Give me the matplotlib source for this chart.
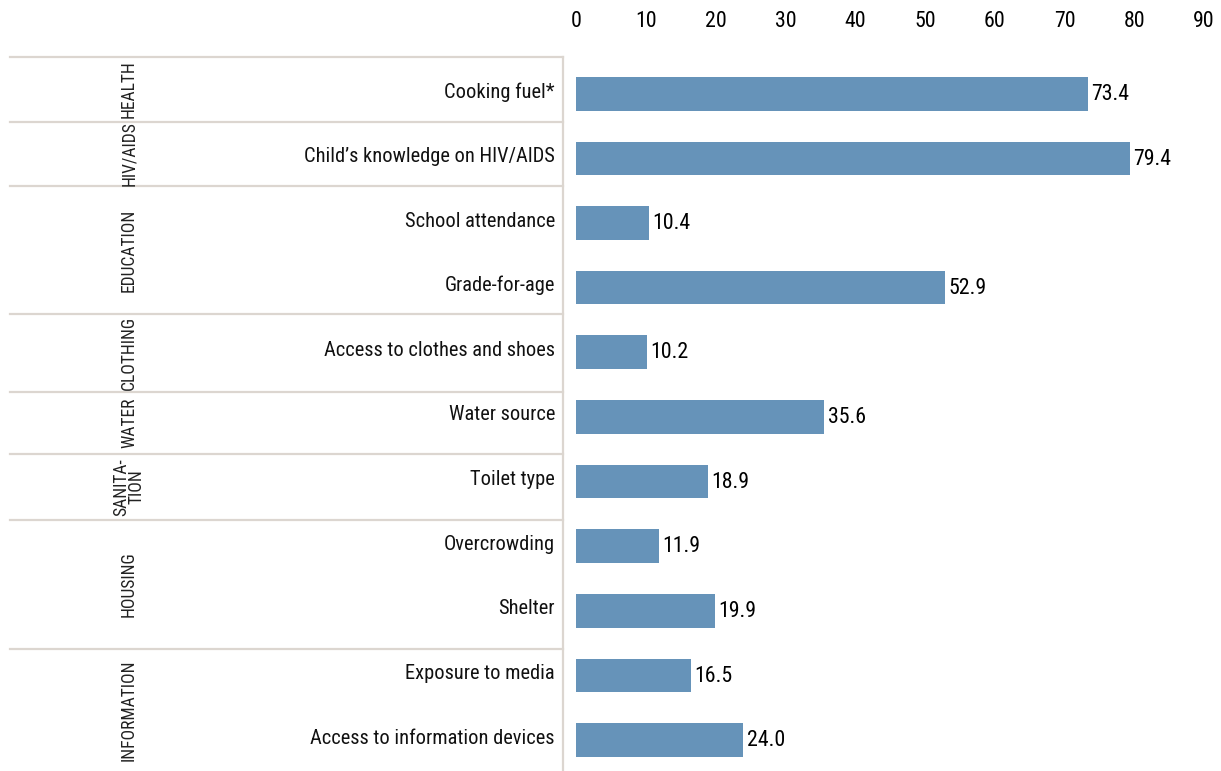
import matplotlib
matplotlib.use("Agg")
import matplotlib.pyplot as plt
import matplotlib.transforms as mtransforms
from matplotlib import font_manager
from matplotlib.font_manager import FontProperties

# ---- data ----
categories = ["Cooking fuel*", "Child\u2019s knowledge on HIV/AIDS", "School attendance",
              "Grade-for-age", "Access to clothes and shoes", "Water source",
              "Toilet type", "Overcrowding", "Shelter", "Exposure to media",
              "Access to information devices"]
values = [73.4, 79.4, 10.4, 52.9, 10.2, 35.6, 18.9, 11.9, 19.9, 16.5, 24.0]
groups = ["HEALTH", "HIV/AIDS", "EDUCATION", "CLOTHING", "WATER", "SANITA-\nTION",
          "HOUSING", "INFORMATION"]
group_sizes = [1, 1, 2, 1, 1, 1, 2, 2]
x_ticks = [0, 10, 20, 30, 40, 50, 60, 70, 80, 90]

# ---- font: look for a condensed / narrow face ----
def pick_condensed():
    prefs = ["Roboto Condensed", "Liberation Sans Narrow", "Noto Sans", "Open Sans",
             "DejaVu Sans", "Roboto", "Inter", "Lato"]
    cands = []
    for f in font_manager.fontManager.ttflist:
        nm = f.name
        st = str(f.stretch).lower()
        low = f.fname.lower()
        cond = ("condensed" in st or "narrow" in st or "Condensed" in nm
                or "Narrow" in nm or "condensed" in low or "narrow" in low)
        if "extra" in st or "ultra" in st or "semi" in st:
            continue
        if "extracondensed" in low or "semicondensed" in low or "ultracondensed" in low:
            continue
        if not cond or f.style != "normal":
            continue
        w = f.weight
        ok = (w in ("normal", "regular", "book")) if isinstance(w, str) else (w == 400)
        if not ok:
            continue
        rank = len(prefs)
        for i, p in enumerate(prefs):
            if nm.startswith(p):
                rank = i
                break
        cands.append((rank, f.fname))
    if cands:
        cands.sort()
        return FontProperties(fname=cands[0][1])
    return FontProperties(family="DejaVu Sans")

FP = pick_condensed()

W, H = 1221, 771
fig = plt.figure(figsize=(W / 100, H / 100), dpi=100)
renderer = fig.canvas.get_renderer()

def fp(size):
    p = FP.copy()
    p.set_size(size)
    return p

def fit_size(text, target_px):
    t = fig.text(0, 0, text, fontproperties=fp(10))
    bb = t.get_window_extent(renderer)
    t.remove()
    return 10 * target_px / bb.width

cat_size = fit_size("Child\u2019s knowledge on HIV/AIDS", 233) * 1.07
val_size = fit_size("79.4", 33) * 1.16
tick_size = val_size
grp_size = fit_size("INFORMATION", 99) * 1.03

x0_px, x90_px = 576, 1204
top_px = 57
ax = fig.add_axes([x0_px / W, 0, (x90_px - x0_px) / W, 1 - top_px / H])

bar_color = "#6693b9"
line_color = "#dcd6d0"
txt_color = "#000000"
n = len(categories)
ypos = list(range(n))
ax.barh(ypos, values, height=0.52, color=bar_color, zorder=2)
ax.set_xlim(0, 90)
ax.set_ylim(10.48, -0.57)

for y, v in zip(ypos, values):
    ax.annotate(f"{v:.1f}", xy=(v, y), xytext=(2.4, -0.5), textcoords="offset points",
                ha="left", va="center", fontproperties=fp(val_size), color=txt_color)

ax.xaxis.set_ticks_position("top")
ax.set_xticks(x_ticks)
ax.set_xticklabels([str(t) for t in x_ticks], fontproperties=fp(tick_size), color=txt_color)
ax.tick_params(axis="x", length=0, pad=18)
ax.set_yticks([])
for s in ax.spines.values():
    s.set_visible(False)

trans = mtransforms.blended_transform_factory(fig.transFigure, ax.transData)

for y, c in zip(ypos, categories):
    ax.text(555 / W, y - 0.03, c, transform=trans, ha="right", va="center",
            fontproperties=fp(cat_size), color="#111111", clip_on=False)

ax.plot([563 / W, 563 / W], [-0.57, 10.48], transform=trans, color=line_color,
        lw=1.6, clip_on=False, zorder=1)

sep_y = [-0.57, 0.43, 1.42, 3.41, 4.61, 5.57, 6.59, 8.59]
for sy in sep_y:
    ax.plot([10 / W, 563 / W], [sy, sy], transform=trans, color=line_color,
            lw=1.6, clip_on=False, zorder=1)

bounds = sep_y + [10.48]
for i, g in enumerate(groups):
    cy = (bounds[i] + bounds[i + 1]) / 2
    ax.text(129 / W, cy, g, transform=trans, rotation=90, ha="center", va="center",
            fontproperties=fp(grp_size), color="#222222", linespacing=0.85,
            multialignment="center", clip_on=False)

fig.savefig("out.png", dpi=100)
